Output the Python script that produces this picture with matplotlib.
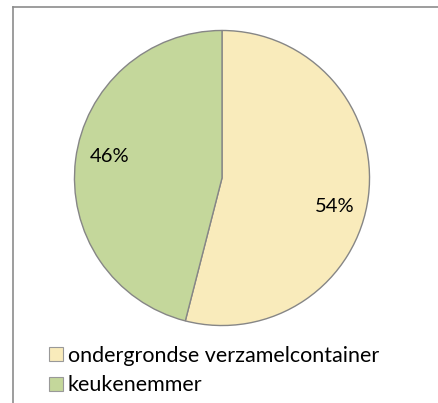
import matplotlib.pyplot as plt
from matplotlib.patches import Patch
from matplotlib.lines import Line2D

labels = ['ondergrondse verzamelcontainer', 'keukenemmer']
shares = [54, 46]
colors = ['#F9EBBB', '#C4D79B']

plt.rcParams['font.family'] = ['Lato', 'DejaVu Sans']

W, H = 439, 403
fig = plt.figure(figsize=(W / 100, H / 100), dpi=100)

# pie centre ~ (222, 178) px, radius ~149 px
ax = fig.add_axes([73 / W, 76 / H, 298 / W, 298 / H])
wedges, texts, autotexts = ax.pie(
    shares, colors=colors, startangle=90, counterclock=False,
    autopct='%d%%', pctdistance=0.77,
    wedgeprops=dict(edgecolor='#868686', linewidth=1.0),
    textprops=dict(fontsize=14.5, color='#000000'))
# nudge labels to where Excel put them
offsets = [(0, -0.10), (0, 0.05)]
for t, (dx, dy) in zip(autotexts, offsets):
    x, y = t.get_position()
    t.set_position((x + dx, y + dy))
ax.set_xlim(-1.01, 1.01)
ax.set_ylim(-1.01, 1.01)
ax.set_aspect('equal')
ax.axis('off')

# chart frame (only left and top edges visible)
fig.add_artist(Line2D([13.5 / W, 13.5 / W], [0, 1 - 6.5 / H],
                      transform=fig.transFigure, color='#8c8c8c', lw=1.2))
fig.add_artist(Line2D([13.5 / W, 1], [1 - 6.5 / H, 1 - 6.5 / H],
                      transform=fig.transFigure, color='#8c8c8c', lw=1.2))

handles = [Patch(facecolor=c, edgecolor='#999999', linewidth=0.8) for c in colors]
fig.legend(handles, labels, loc='upper left',
           bbox_to_anchor=(40 / W, 1 - 337 / H), frameon=False,
           fontsize=15.5, handlelength=0.65, handleheight=0.65,
           handletextpad=0.25, labelspacing=0.45, borderaxespad=0)

fig.savefig('out.png', dpi=100, facecolor='white')
